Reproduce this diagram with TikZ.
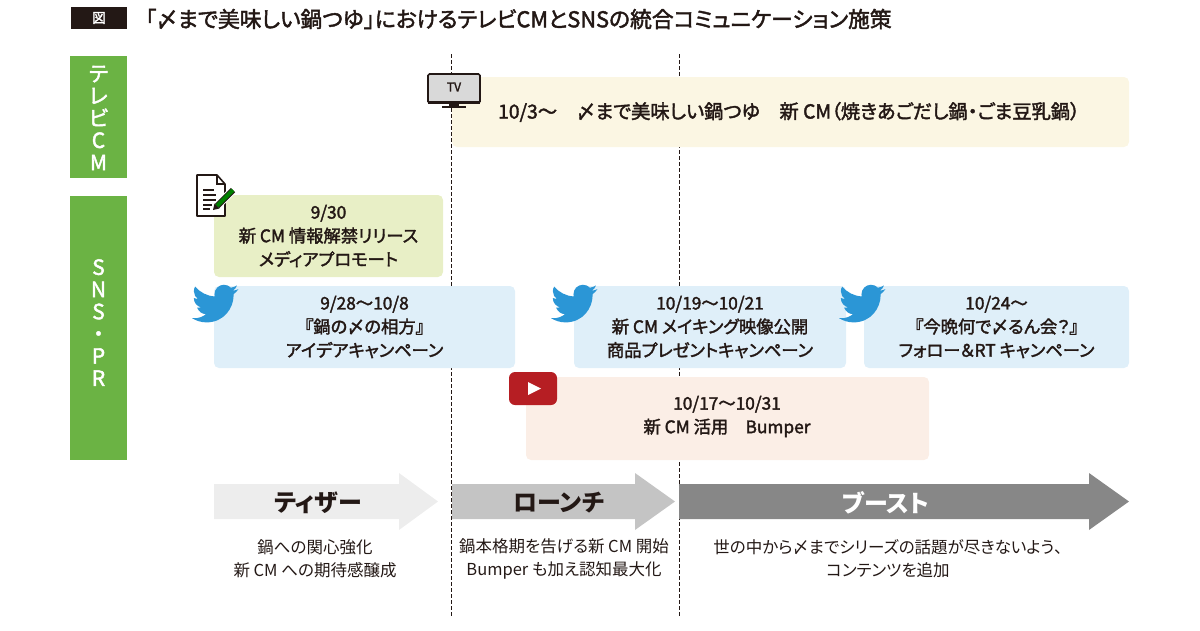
\documentclass[tikz,border=0pt]{standalone}
\usepackage{fontspec}
\newfontfamily\jpfont[RawFeature={+palt}]{Noto Sans CJK JP}
\newfontfamily\jpmed[RawFeature={+palt},FakeBold=2]{Noto Sans CJK JP}
\definecolor{inkblack}{HTML}{231815}
\definecolor{labelgreen}{HTML}{6BB344}
\definecolor{tvfill}{HTML}{FBF6E3}
\definecolor{pressfill}{HTML}{E8EFC6}
\definecolor{twfill}{HTML}{DFEFF9}
\definecolor{ytfill}{HTML}{FBEEE6}
\definecolor{twblue}{HTML}{2B96D6}
\definecolor{ytred}{HTML}{B61E23}
\tikzset{
  sidelabel/.style={fill=labelgreen, minimum width=57, inner sep=0},
  sidetext/.style={text=white, align=center, inner sep=0, font=\jpmed\fontsize{21}{22.2}\selectfont},
  planbox/.style={rounded corners=5, inner sep=0, align=center, text=inkblack, font=\jpmed\fontsize{17.3}{23.6}\selectfont},
  planhead/.style={inner sep=0, text=inkblack, font=\jpfont\bfseries\fontsize{24}{24}\selectfont},
  plannote/.style={inner sep=0, align=center, text=inkblack, font=\jpfont\fontsize{16.5}{23}\selectfont},
  phaseline/.style={inkblack, line width=0.7pt, dash pattern=on 3.5pt off 2.5pt},
  twbird/.pic={
    \fill[twblue, scale=1.93] (23.953,4.57) .. controls (23.1,4.95) and (22.1,5.22) .. (21.128,5.345)
      .. controls (22.15,4.73) and (22.93,3.77) .. (23.291,2.622)
      .. controls (22.34,3.177) and (21.286,3.581) .. (20.164,3.806)
      .. controls (19.27,2.85) and (17.98,2.25) .. (16.57,2.25)
      .. controls (13.85,2.25) and (11.65,4.45) .. (11.65,7.17)
      .. controls (11.65,7.55) and (11.69,7.93) .. (11.78,8.288)
      .. controls (7.69,8.095) and (4.067,6.13) .. (1.64,3.162)
      .. controls (1.22,3.87) and (0.974,4.72) .. (0.974,5.637)
      .. controls (0.974,7.347) and (1.844,8.85) .. (3.162,9.733)
      .. controls (2.35,9.71) and (1.6,9.48) .. (0.934,9.117)
      -- (0.934,9.177)
      .. controls (0.934,11.55) and (2.63,13.54) .. (4.88,14.004)
      .. controls (4.17,14.19) and (3.42,14.23) .. (2.668,14.089)
      .. controls (3.3,16.0) and (5.1,17.45) .. (7.272,17.506)
      .. controls (5.6,18.82) and (3.5,19.611) .. (1.17,19.611)
      .. controls (0.78,19.611) and (0.391,19.588) .. (0,19.544)
      .. controls (2.2,20.94) and (4.78,21.753) .. (7.557,21.753)
      .. controls (16.61,21.753) and (21.555,14.257) .. (21.555,7.768)
      .. controls (21.555,7.558) and (21.555,7.348) .. (21.54,7.138)
      .. controls (22.5,6.44) and (23.34,5.57) .. (24,4.59) -- cycle;
  }
}

\begin{document}
\begin{tikzpicture}[x=1pt,y=-1pt]

  \useasboundingbox (0,0) rectangle (1200,630);

  % title
  \draw (99,18) node[fill=inkblack, text=white, minimum width=56, minimum height=22, inner sep=0, font=\jpmed\fontsize{13.5}{14}\selectfont] (tag) {図};
  \draw (518.5,19) node[inner sep=0, text=inkblack, font=\jpmed\fontsize{21.8}{22}\selectfont] (title) {「〆まで美味しい鍋つゆ」におけるテレビCMとSNSの統合コミュニケーション施策};

  % phases
  \coordinate (dashA) at (451.5,54);
  \coordinate (dashAend) at (451.5,617);
  \coordinate (dashB) at (679.5,54);
  \coordinate (dashBend) at (679.5,617);
  \draw[phaseline] (dashA) -- (dashAend);
  \draw[phaseline] (dashB) -- (dashBend);

  % side labels
  \draw (98.5,117) node[sidelabel, minimum height=122] (tvside) {};
  \draw (98.5,118) node[sidetext] (tvsidetext) {テ\\レ\\ビ\\C\\M};
  \draw (98.5,328) node[sidelabel, minimum height=264] (snsside) {};
  \draw (98.5,322.5) node[sidetext] (snssidetext) {S\\N\\S\\・\\P\\R};

  % boxes
  \draw (790.5,112) node[planbox, fill=tvfill, minimum width=677, minimum height=70] (tvbox) {};
  \draw (789,112) node[planbox, font=\jpmed\fontsize{19.3}{24}\selectfont] (tvtext) {10/3〜\quad 〆まで美味しい鍋つゆ\quad 新 CM（焼きあごだし鍋・ごま豆乳鍋）};
  \draw (328.5,236) node[planbox, fill=pressfill, minimum width=229, minimum height=82] (pressbox) {9/30\\新 CM 情報解禁リリース\\メディアプロモート};
  \draw (364.5,327) node[planbox, fill=twfill, minimum width=301, minimum height=82] (twboxA) {9/28〜10/8\\『鍋の〆の相方』\\アイデアキャンペーン};
  \draw (710,327) node[planbox, fill=twfill, minimum width=272, minimum height=82] (twboxB) {10/19〜10/21\\新 CM メイキング映像公開\\商品プレゼントキャンペーン};
  \draw (996.5,327) node[planbox, fill=twfill, minimum width=265, minimum height=82] (twboxC) {10/24〜\\『今晩何で〆るん会？』\\フォロー＆RT キャンペーン};
  \draw (727.5,418.5) node[planbox, fill=ytfill, minimum width=403, minimum height=83] (ytbox) {};
  \draw (727,416.5) node[planbox] (yttext) {10/17〜10/31\\新 CM 活用\quad Bumper};

  % icons
  \draw[draw=inkblack, fill=white, line width=1.6pt, line join=round] (197,175) -- (217,175) -- (225,184) -- (225,216) -- (197,216) -- cycle;
  \draw[inkblack, line width=1.2pt] (217,175) -- (217,184) -- (225,184);
  \foreach \y/\e in {190/214, 195/216, 200/216, 205/212, 209/210}
    \draw[inkblack, line width=1.1pt] (203,\y) -- (\e,\y);
  \draw[white, line width=8pt] (216,207) -- (234,189);
  \draw[inkblack, line width=6pt] (217,206) -- (233,190);
  \draw[green!50!black, line width=4.2pt] (217,206) -- (233,190);
  \fill[inkblack] (213,210) -- (214.5,203.5) -- (219.5,208.5) -- cycle;
  \pic at (192,280.4) {twbird};
  \pic at (551,280.4) {twbird};
  \pic at (839,280.4) {twbird};
  \fill[ytred, rounded corners=6] (509,372) rectangle (557,405);
  \fill[white] (528,382) -- (541,388.5) -- (528,395) -- cycle;
  \fill[inkblack] (442,106) rectangle (466,108);
  \fill[inkblack] (449,103) rectangle (459,107);
  \draw[draw=inkblack, fill=black!15, line width=1.6pt, rounded corners=1.5] (428,74) rectangle (480,103);
  \fill[inkblack] (428,100.5) rectangle (480,104);
  \draw (454,87) node[inner sep=0, text=inkblack, font=\jpmed\fontsize{12}{12}\selectfont] (tvicon) {TV};

  % arrows
  \fill[black!7] (214,484) -- (399,484) -- (399,473) -- (438,501.5) -- (399,530) -- (399,519) -- (214,519) -- cycle;
  \fill[black!23] (452,484) -- (635,484) -- (635,473) -- (675,501.5) -- (635,530) -- (635,519) -- (452,519) -- cycle;
  \fill[black!47] (679,484) -- (1089,484) -- (1089,473) -- (1129,501.5) -- (1089,530) -- (1089,519) -- (679,519) -- cycle;
  \draw (318,503) node[planhead] (teaser) {ティザー};
  \draw (559,503) node[planhead] (launch) {ローンチ};
  \draw (886,503) node[planhead, text=white] (boost) {ブースト};

  % notes
  \draw (315,558.5) node[plannote] (teasernote) {鍋への関心強化\\新 CM への期待感醸成};
  \draw (564,558.5) node[plannote] (launchnote) {鍋本格期を告げる新 CM 開始\\Bumper も加え認知最大化};
  \draw (888,558.5) node[plannote] (boostnote) {世の中から〆までシリーズの話題が尽きないよう、\\コンテンツを追加};

\end{tikzpicture}
\end{document}
